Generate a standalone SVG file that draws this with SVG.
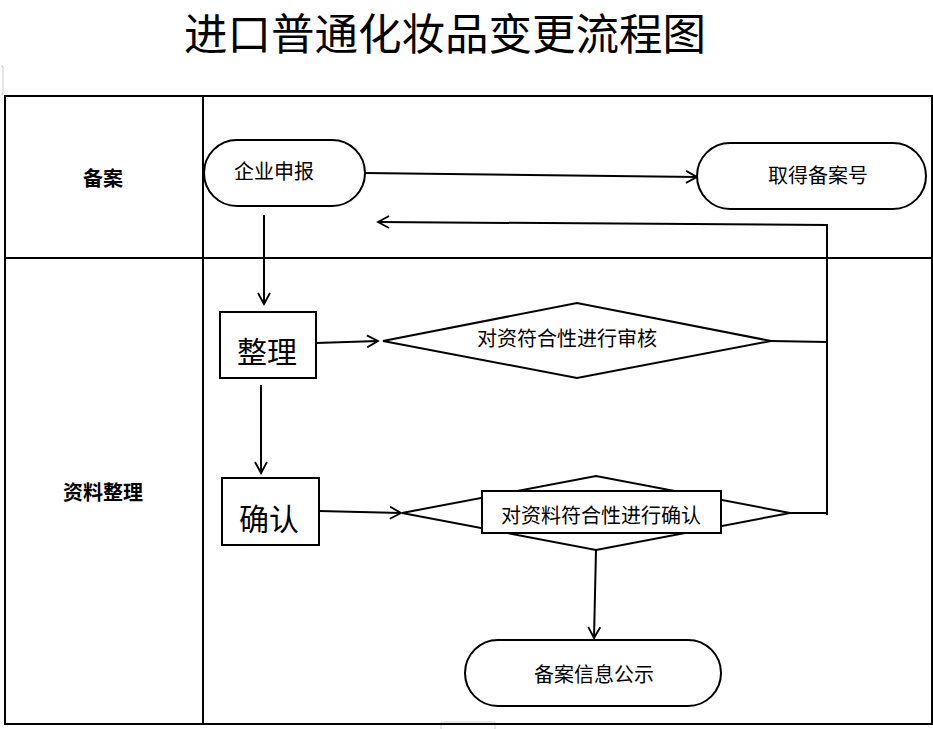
<svg xmlns="http://www.w3.org/2000/svg" width="933" height="729" viewBox="0 0 933 729">
<defs>
<marker id="arr" markerWidth="14" markerHeight="14" refX="12" refY="7" orient="auto" markerUnits="userSpaceOnUse">
<path d="M1,1 L12,7 L1,13" fill="none" stroke="#000" stroke-width="1.8"/>
</marker>
</defs>
<style>
.ln{stroke:#000;stroke-width:2;fill:none}
.sh{stroke:#000;stroke-width:2;fill:#fff}
.t{font-family:"Noto Sans CJK SC",sans-serif;fill:#000;text-anchor:middle;dominant-baseline:central}
.lab{font-family:"Noto Sans CJK SC",sans-serif;font-weight:bold;font-size:20px;fill:#000;text-anchor:middle;dominant-baseline:central}
</style>
<rect width="933" height="729" fill="#fff"/>
<text class="t" x="445" y="31" style="font-size:43.5px">进口普通化妆品变更流程图</text>
<path d="M1,66 L3,66 L3,94 L1,94" fill="none" stroke="#ccc" stroke-width="1"/>
<path d="M441,729 L441,722 L495,722 L495,729" fill="none" stroke="#ccc" stroke-width="1"/>
<g id="table">
<rect class="ln" x="5" y="96" width="927" height="628"/>
<line class="ln" x1="203" y1="96" x2="203" y2="724"/>
<line class="ln" x1="5" y1="258" x2="932" y2="258"/>
<text class="lab" x="103" y="177">备案</text>
<text class="lab" x="103" y="491">资料整理</text>
</g>
<g id="connectors">
<line class="ln" x1="365" y1="173" x2="697" y2="177" marker-end="url(#arr)"/>
<polyline class="ln" points="827,515 827,225 378,222" marker-end="url(#arr)"/>
<line class="ln" x1="771" y1="341" x2="827" y2="342"/>
<line class="ln" x1="790" y1="513" x2="827" y2="513"/>
<line class="ln" x1="264" y1="215" x2="264" y2="304" marker-end="url(#arr)"/>
<line class="ln" x1="316" y1="343" x2="378" y2="341" marker-end="url(#arr)"/>
<line class="ln" x1="261" y1="385" x2="261" y2="473" marker-end="url(#arr)"/>
<line class="ln" x1="319" y1="511" x2="401" y2="513" marker-end="url(#arr)"/>
<line class="ln" x1="596" y1="550" x2="594" y2="638" marker-end="url(#arr)"/>
</g>
<g id="n1">
<rect class="sh" x="204" y="140" width="161" height="66" rx="33" ry="33"/>
<text class="t" x="274" y="170" style="font-size:20px">企业申报</text>
</g>
<g id="n2">
<rect class="sh" x="697" y="143" width="229" height="66" rx="33" ry="33"/>
<text class="t" x="818" y="174" style="font-size:20px">取得备案号</text>
</g>
<g id="n3">
<rect class="sh" x="220" y="312" width="96" height="66"/>
<text class="t" x="267" y="350" style="font-size:30px">整理</text>
</g>
<g id="n4">
<polygon class="sh" points="383,341 577,303 771,341 577,378"/>
<text class="t" x="567" y="337" style="font-size:20px">对资符合性进行审核</text>
</g>
<g id="n5">
<rect class="sh" x="222" y="478" width="97" height="67"/>
<text class="t" x="269" y="517" style="font-size:30px">确认</text>
</g>
<g id="n6">
<polygon class="sh" points="402,513 596,476 790,513 596,550"/>
<rect class="sh" x="482" y="491" width="239" height="42"/>
<text class="t" x="601" y="514" style="font-size:20px">对资料符合性进行确认</text>
</g>
<g id="n7">
<rect class="sh" x="465" y="640" width="256" height="66" rx="33" ry="33"/>
<text class="t" x="594" y="673" style="font-size:20px">备案信息公示</text>
</g>
</svg>
